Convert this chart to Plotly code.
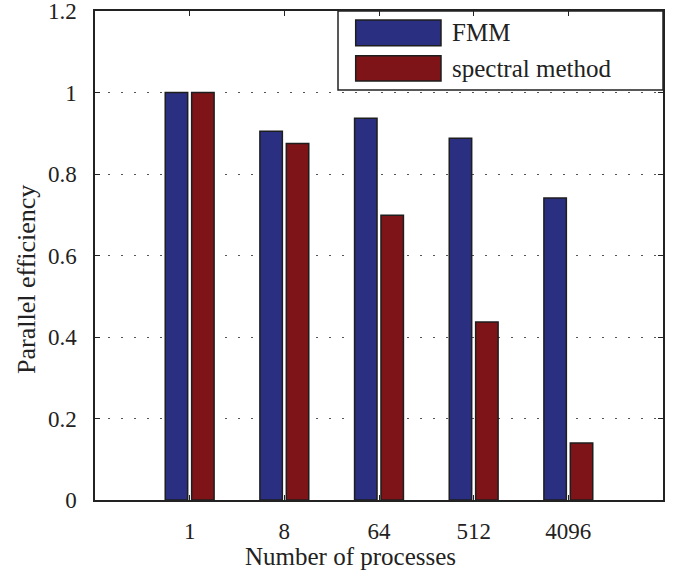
import plotly.graph_objects as go

categories = ["1", "8", "64", "512", "4096"]
fmm = [1.0, 0.905, 0.937, 0.888, 0.741]
spectral = [1.0, 0.875, 0.699, 0.437, 0.14]
series_names = ["FMM", "spectral method"]
colors = ["#2B2F81", "#7F1418"]
y_ticks = [0, 0.2, 0.4, 0.6, 0.8, 1, 1.2]
y_ticktext = ["0", "0.2", "0.4", "0.6", "0.8", "1", "1.2"]

FONT = "Liberation Serif"
TXT = "#222222"

fig = go.Figure()
for name, vals, col in zip(series_names, [fmm, spectral], colors):
    fig.add_trace(go.Bar(
        x=categories, y=vals, name=name,
        marker=dict(color=col, line=dict(color="#1e1e1e", width=1.5)),
        showlegend=False,
    ))

fig.update_layout(
    width=676, height=570,
    margin=dict(l=95, r=13, t=11, b=70, autoexpand=False),
    paper_bgcolor="white", plot_bgcolor="white",
    barmode="group", bargap=0.442, bargroupgap=0.15,
    font=dict(family=FONT, color=TXT, size=23),
)
fig.update_xaxes(
    type="category", range=[-1, 5], automargin=False,
    showline=True, linecolor="#222", linewidth=1.5, mirror="ticks",
    ticks="inside", ticklen=5, tickcolor="#222", tickwidth=1,
    showgrid=False, ticklabelstandoff=10, ticklabeloverflow="allow",
    tickfont=dict(family=FONT, size=23, color=TXT),
)
fig.update_yaxes(
    range=[0, 1.2], tickvals=y_ticks, ticktext=y_ticktext, automargin=False,
    showline=True, linecolor="#222", linewidth=1.5, mirror="ticks",
    ticks="inside", ticklen=5, tickcolor="#222", tickwidth=1,
    showgrid=True, gridcolor="#555", gridwidth=1, griddash="2px,11px",
    zeroline=False, ticklabelstandoff=12, ticklabeloverflow="allow",
    tickfont=dict(family=FONT, size=23, color=TXT),
)

# axis titles
fig.add_annotation(text="Number of processes", xref="paper", yref="paper",
                   x=(350 - 95) / 568, y=-(556 - 500) / 489, showarrow=False,
                   xanchor="center", yanchor="middle",
                   font=dict(family=FONT, size=25, color=TXT))
fig.add_annotation(text="Parallel efficiency", xref="paper", yref="paper",
                   x=-(95 - 26) / 568, y=(500 - 280) / 489, showarrow=False,
                   textangle=-90, xanchor="center", yanchor="middle",
                   font=dict(family=FONT, size=26, color=TXT))

# custom legend
fig.add_shape(type="rect", xref="paper", yref="paper", layer="below",
              x0=(338 - 95) / 568, x1=1, y0=(500 - 90) / 489, y1=1,
              line=dict(color="#222", width=1.5), fillcolor="white")
sw = [(20, 45.7), (55.7, 81)]
for (top, bot), name, col in zip(sw, series_names, colors):
    fig.add_shape(type="rect", xref="paper", yref="paper", layer="below",
                  x0=(355.7 - 95) / 568, x1=(441 - 95) / 568,
                  y0=(500 - bot) / 489, y1=(500 - top) / 489,
                  line=dict(color="#1e1e1e", width=1.5), fillcolor=col)
    fig.add_annotation(text=name, xref="paper", yref="paper",
                       x=(450 - 95) / 568, y=(500 - (top + bot) / 2) / 489,
                       showarrow=False, xanchor="left", yanchor="middle",
                       font=dict(family=FONT, size=25, color=TXT))

fig.write_html("out.html", config={"displayModeBar": False},
               post_script="document.body.style.margin='0';document.body.style.overflow='hidden';")
